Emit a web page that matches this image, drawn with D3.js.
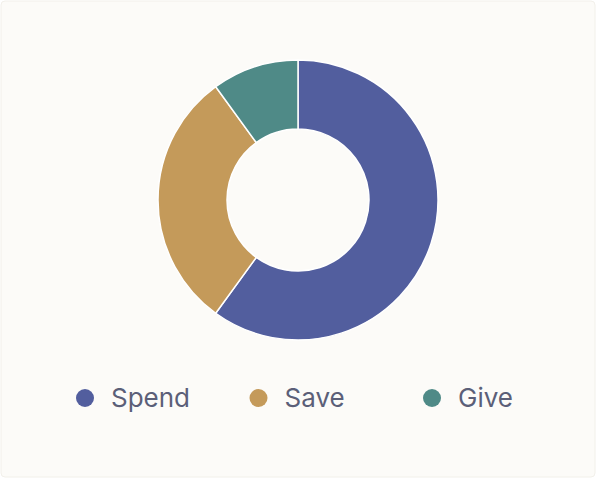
<!DOCTYPE html>
<html><head><meta charset="utf-8">
<script src="https://cdn.jsdelivr.net/npm/d3@7"></script>
<style>body{margin:0;background:#fff}</style></head>
<body><svg id="c" width="596" height="478"></svg>
<script>
const categories = ["Spend", "Save", "Give"];
const values = [60, 30, 10];
const colors = ["#525e9e", "#c49a5a", "#4f8a87"];

const svg = d3.select("#c");
svg.append("rect").attr("x",1).attr("y",1).attr("width",594).attr("height",476).attr("rx",4)
  .attr("fill","#fcfbf8").attr("stroke","#f2f0ea");
const pie = d3.pie().sort(null)(values);
const arc = d3.arc().innerRadius(71).outerRadius(140);
const g = svg.append("g").attr("transform","translate(298,200)");
g.selectAll("path").data(pie).join("path").attr("d",arc)
  .attr("fill",(d,i)=>colors[i]).attr("stroke","#fff").attr("stroke-width",1.5);
const xs = d3.scalePoint().domain(categories).range([85,432]);
const lg = svg.selectAll("g.l").data(categories).join("g")
  .attr("transform",d=>`translate(${xs(d)},398)`);
lg.append("circle").attr("r",9).attr("fill",(d,i)=>colors[i]);
lg.append("text").attr("x",26).attr("dy","0.35em").text(d=>d)
  .attr("font-family","Inter, Lato, sans-serif").attr("font-size",26).attr("fill","#5b5f78");
</script></body></html>
